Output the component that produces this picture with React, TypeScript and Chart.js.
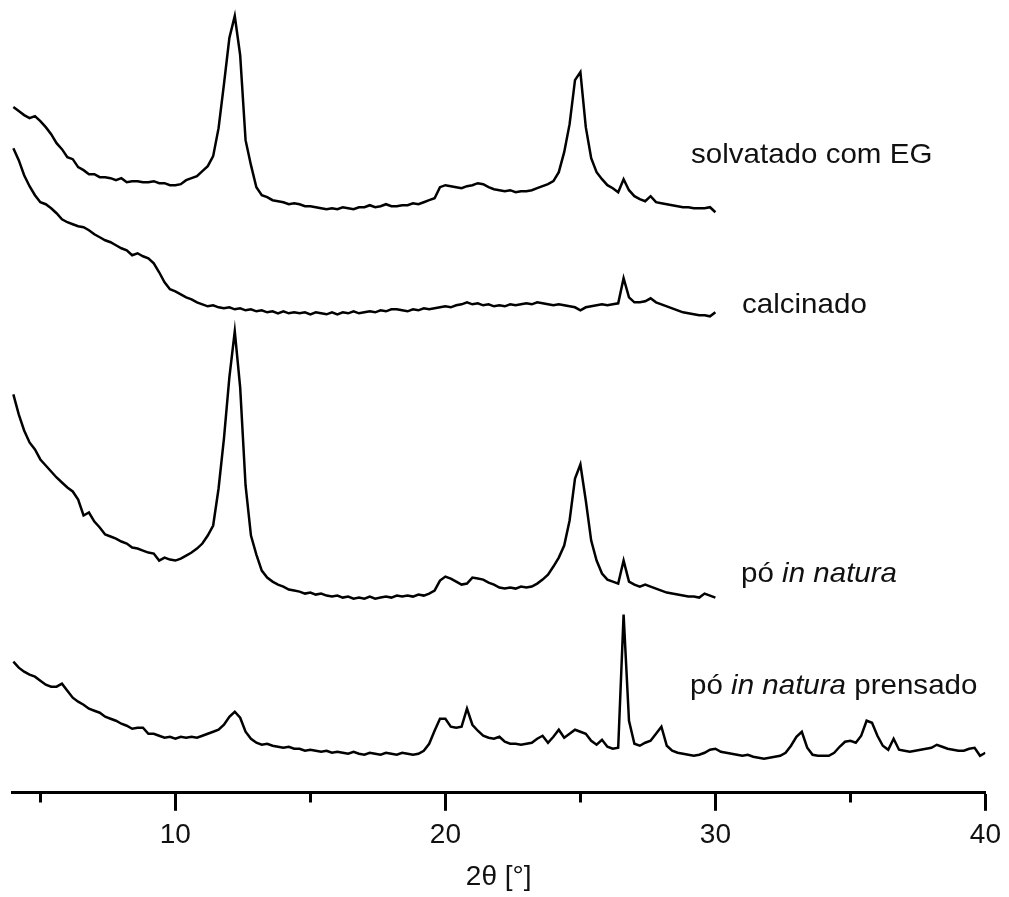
import { useEffect, useRef } from "react";
import { Chart, registerables } from "chart.js";

Chart.register(...registerables);

// Scan grid (degrees 2θ)
const SCAN_START = 4.0;
const SCAN_STEP = 0.2;

// Intensities (arbitrary units, offset stacked)
const solvatado = [
  685, 681, 677, 674, 676, 671, 665, 658, 649, 643,
  635, 633, 625, 622, 618, 618, 615, 615, 614, 612,
  614, 610, 611, 611, 610, 610, 611, 609, 609, 607,
  607, 608, 612, 614, 616, 621, 626, 636, 664, 708,
  754, 776, 737, 652, 627, 605, 597, 595, 592, 591,
  590, 588, 589, 588, 586, 586, 585, 584, 583, 584,
  583, 585, 584, 583, 585, 585, 587, 585, 586, 588,
  586, 586, 587, 587, 589, 588, 590, 592, 594, 605,
  607, 606, 605, 604, 606, 607, 609, 608, 605, 603,
  602, 601, 602, 600, 601, 601, 602, 604, 606, 608,
  611, 620, 640, 668, 712, 720, 665, 634, 620, 613,
  607, 604, 600, 613, 602, 596, 593, 591, 596, 590,
  589, 588, 587, 586, 585, 585, 584, 584, 584, 585, 580,
];

const calcinado = [
  644, 632, 617, 606, 597, 590, 588, 584, 579, 573,
  570, 568, 566, 565, 562, 558, 555, 552, 550, 547,
  544, 542, 537, 539, 536, 534, 529, 520, 510, 503,
  501, 498, 495, 493, 490, 488, 486, 487, 485, 484,
  485, 483, 484, 482, 483, 481, 482, 480, 481, 479,
  481, 479, 480, 479, 480, 478, 480, 479, 478, 480,
  478, 480, 479, 481, 479, 480, 481, 480, 482, 481,
  483, 483, 482, 481, 483, 482, 484, 483, 484, 485,
  486, 485, 487, 488, 490, 488, 489, 487, 488, 486,
  487, 486, 488, 487, 488, 489, 488, 490, 489, 488,
  487, 488, 487, 486, 485, 482, 485, 486, 487, 488,
  487, 488, 489, 514, 495, 490, 490, 491, 494, 490,
  488, 486, 484, 482, 480, 479, 478, 477, 477, 476, 480,
];

const poInNatura = [
  398, 378, 362, 350, 343, 333, 327, 321, 315, 310,
  305, 301, 293, 277, 280, 271, 265, 258, 256, 254,
  251, 249, 245, 244, 242, 240, 239, 232, 235, 233,
  232, 234, 237, 240, 244, 249, 257, 267, 304, 354,
  415, 461, 405, 307, 257, 238, 222, 215, 211, 208,
  206, 203, 202, 201, 199, 200, 198, 199, 197, 196,
  197, 195, 196, 194, 195, 194, 196, 194, 195, 196,
  195, 197, 196, 197, 196, 198, 197, 199, 202, 212,
  216, 214, 211, 208, 209, 215, 214, 213, 210, 208,
  205, 204, 205, 204, 206, 205, 206, 209, 213, 218,
  226, 235, 247, 272, 314, 328, 292, 252, 232, 219,
  213, 211, 209, 232, 211, 208, 206, 208, 206, 204,
  202, 200, 199, 198, 197, 196, 196, 195, 199, 197, 195,
];

const poInNaturaPrensado = [
  131, 125, 121, 118, 116, 112, 108, 106, 106, 109,
  102, 95, 91, 88, 84, 82, 80, 76, 74, 72,
  69, 67, 64, 65, 65, 59, 59, 57, 55, 56,
  54, 56, 55, 56, 55, 57, 59, 61, 63, 68,
  76, 81, 75, 61, 54, 50, 48, 49, 47, 46,
  45, 46, 44, 44, 42, 43, 42, 41, 42, 40,
  41, 40, 39, 41, 39, 38, 40, 39, 38, 40,
  39, 38, 40, 39, 38, 39, 42, 49, 62, 74,
  74, 66, 65, 66, 84, 68, 62, 57, 55, 54,
  56, 51, 49, 49, 48, 49, 50, 54, 57, 50,
  56, 63, 55, 59, 63, 61, 59, 52, 48, 53,
  46, 44, 45, 178, 72, 49, 47, 50, 52, 59,
  66, 47, 42, 40, 39, 38, 37, 38, 40, 43,
  44, 41, 40, 39, 38, 37, 38, 36, 35, 34,
  35, 36, 37, 40, 47, 56, 61, 45, 38, 37,
  37, 37, 40, 46, 51, 52, 50, 57, 72, 70,
  57, 47, 43, 54, 43, 42, 41, 42, 43, 44,
  45, 48, 46, 44, 43, 42, 42, 44, 45, 37, 40,
];

const X_MIN = 3.95;
const X_MAX = 40;
const MAJOR_STEP = 10;
const MINOR_STEP = 5;
const X_TITLE = "2θ [°]";

const FONT = "'Liberation Sans', Arial, sans-serif";

function toPoints(values: number[]) {
  return values.map((v, i) => ({ x: +(SCAN_START + i * SCAN_STEP).toFixed(2), y: v }));
}

export default function App() {
  const canvasRef = useRef<HTMLCanvasElement | null>(null);

  useEffect(() => {
    if (!canvasRef.current) return;
    const mk = (label: string, values: number[]) => ({
      label,
      data: toPoints(values),
      borderColor: "#000",
      borderWidth: 2.5,
      pointRadius: 0,
      tension: 0,
      fill: false,
    });
    const chart = new Chart(canvasRef.current, {
      type: "line",
      data: {
        datasets: [
          mk("solvatado com EG", solvatado),
          mk("calcinado", calcinado),
          mk("pó in natura", poInNatura),
          mk("pó in natura prensado", poInNaturaPrensado),
        ],
      },
      options: {
        responsive: false,
        animation: false,
        layout: { padding: { left: 12, right: 19, top: 0, bottom: 0 } },
        plugins: { legend: { display: false }, tooltip: { enabled: false } },
        scales: {
          x: {
            type: "linear",
            position: "bottom",
            min: X_MIN,
            max: X_MAX,
            border: { display: true, color: "#000", width: 3 },
            grid: {
              drawOnChartArea: false,
              drawTicks: true,
              tickLength: 18,
              tickWidth: 3,
              tickColor: "#000",
              tickBorderDash: (ctx: any) =>
                ctx.tick && Math.abs(ctx.tick.value % MAJOR_STEP) < 1e-6 ? [] : [8.5, 100],
            },
            ticks: {
              stepSize: MINOR_STEP,
              includeBounds: false,
              autoSkip: false,
              maxRotation: 0,
              color: "#111",
              padding: 8,
              font: { family: FONT, size: 28 },
              callback: (v: any) => (Math.abs(Number(v) % MAJOR_STEP) < 1e-6 ? String(v) : ""),
            },
            title: {
              display: true,
              text: X_TITLE,
              color: "#111",
              font: { family: FONT, size: 28 },
              padding: { top: 0, bottom: 3 },
            },
          },
          y: { display: false, min: 0, max: 792 },
        },
      },
    } as any);
    return () => chart.destroy();
  }, []);

  const labelStyle = (left: number, top: number): React.CSSProperties => ({
    position: "absolute",
    left,
    top,
    fontFamily: FONT,
    fontSize: 28,
    lineHeight: "28px",
    color: "#111",
    whiteSpace: "nowrap",
    transform: "scaleX(1.055)",
    transformOrigin: "left center",
  });

  return (
    <div style={{ position: "absolute", left: 0, top: 0, width: 1009, height: 897, background: "#fff" }}>
      <canvas ref={canvasRef} width={1009} height={897} style={{ display: "block" }} />
      <div style={labelStyle(691, 140)}>solvatado com EG</div>
      <div style={labelStyle(742, 290)}>calcinado</div>
      <div style={labelStyle(741, 559)}>
        pó <i>in natura</i>
      </div>
      <div style={labelStyle(690, 671)}>
        pó <i>in natura</i> prensado
      </div>
    </div>
  );
}
